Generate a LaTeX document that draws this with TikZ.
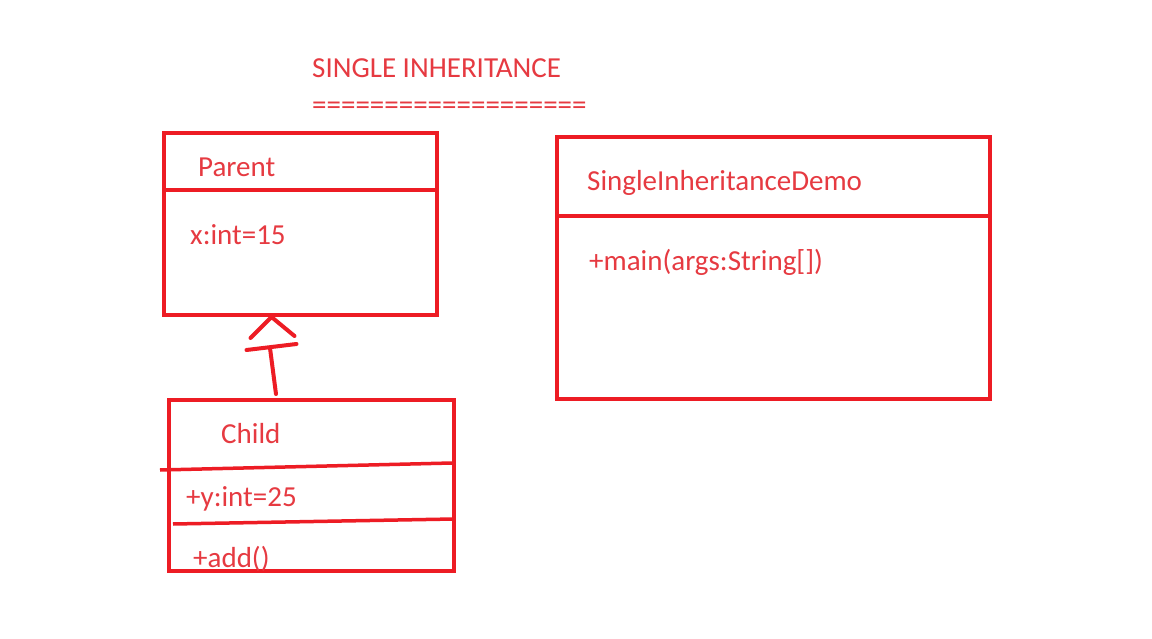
\documentclass[tikz,border=0pt]{standalone}
\usepackage{fontspec}
\setmainfont{Carlito}
\usepackage{tikz}
\usetikzlibrary{positioning,calc}
\definecolor{paintred}{HTML}{ED1C24}
\definecolor{inkred}{HTML}{E63A41}
\tikzset{
  classbox/.style = {draw=paintred, line width=4pt, rectangle, outer sep=0pt,
                     inner sep=0pt, anchor=north west},
  divider/.style  = {draw=paintred, line width=4pt},
  handline/.style = {draw=paintred, line width=3.5pt},
  txt/.style      = {text=inkred, anchor=base west, inner sep=0pt,
                     font=\fontsize{29}{34}\selectfont},
  conn/.style     = {draw=paintred, line width=4pt, line cap=round},
}

\begin{document}
\begin{tikzpicture}[x=1pt, y=-1pt]
  \useasboundingbox[fill=white] (0,0) rectangle (1152,639);

  % title
  \node[txt] (title) at (312,78) {SINGLE INHERITANCE};
  \node[txt] (rule)  at (312,115) {===================};

  % class boxes
  \node[classbox, minimum width=273pt, minimum height=182pt] (parent) at (163.5,133) {};
  \node[classbox, minimum width=285pt, minimum height=171pt] (child)  at (169,400) {};
  \node[classbox, minimum width=433pt, minimum height=262pt] (demo)   at (557,137) {};

  % compartments
  \draw[divider] (163.5,190) -- (436.5,190);
  \draw[divider] (557,216.5) -- (990,216.5);
  \draw[handline] (160,470) -- (452,463);
  \draw[handline] (173,524) -- (454,519);

  % texts
  \node[txt] (parentname) at (198,177) {Parent};
  \node[txt] (parentx)    at (190,245) {x:int=15};
  \node[txt] (childname)  at (221,443) {Child};
  \node[txt] (childy)     at (186,506) {+y:int=25};
  \node[txt] (childadd)   at (193,567) {+add()};
  \node[txt] (demoname)   at (587,191) {SingleInheritanceDemo};
  \node[txt] (demomain)   at (589,271) {+main(args:String[])};

  % inheritance arrow, child to parent
  \coordinate (tail) at ($(child.north west)+(107,-6)$);
  \coordinate (tip)  at ($(parent.south west)+(108,2)$);
  \draw[conn] (tail) -- ($(tip)+(-1.5,31)$);
  \draw[conn] ($(tip)+(-25,33)$) -- ($(tip)+(25,27)$);
  \draw[conn] ($(tip)+(-21,21)$) -- (tip) -- ($(tip)+(23,19)$);
\end{tikzpicture}
\end{document}
